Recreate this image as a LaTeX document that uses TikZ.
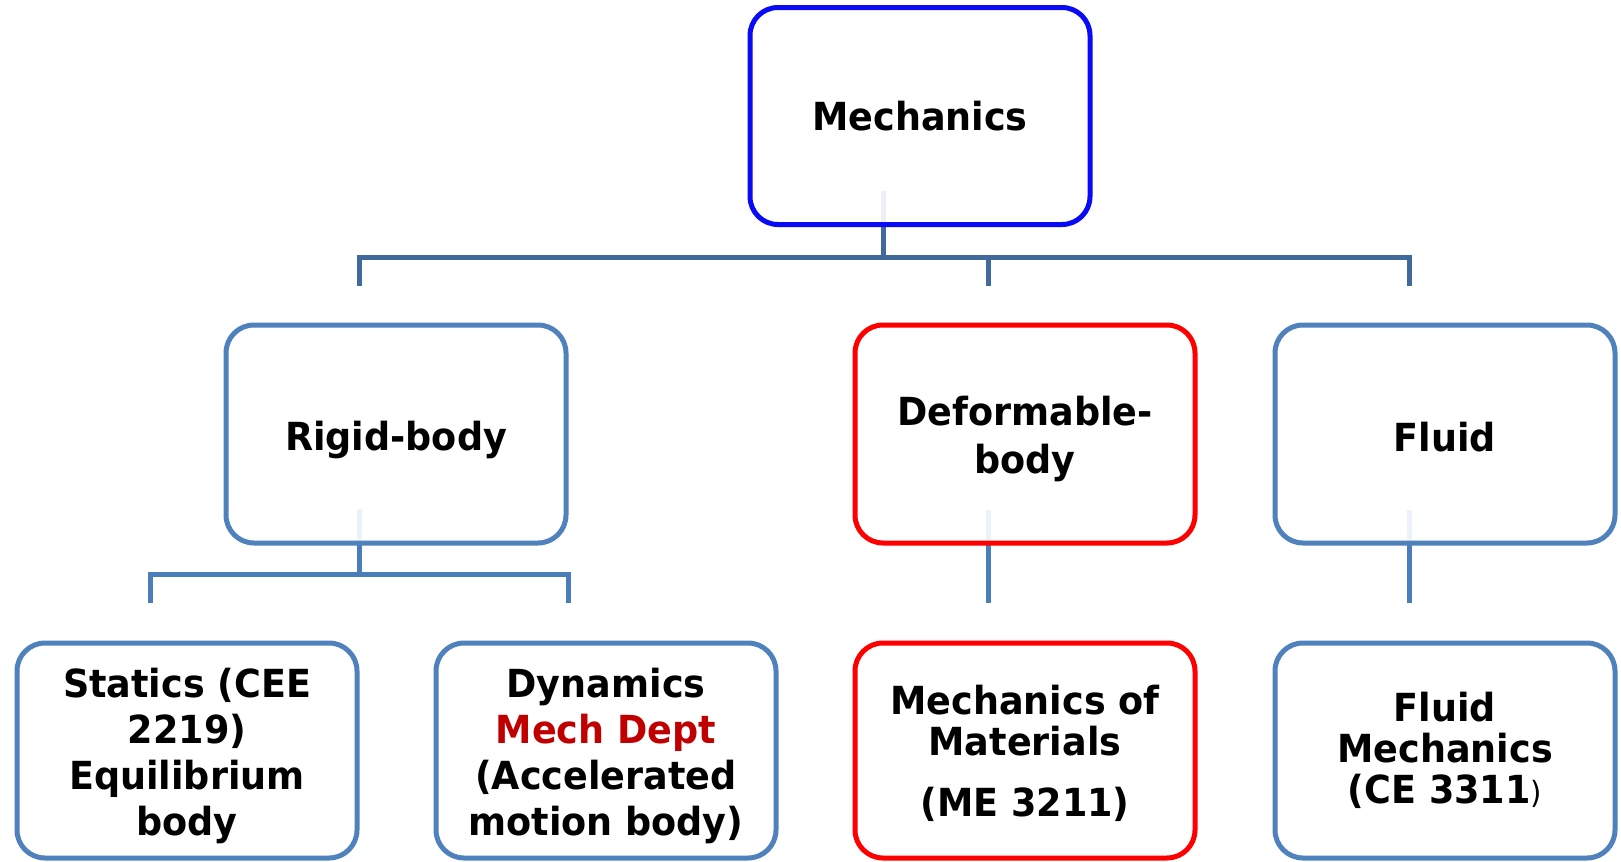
\documentclass[tikz,border=0pt]{standalone}
\usepackage{fontspec}
\setmainfont{DejaVu Sans}[FakeStretch=0.945]
\usetikzlibrary{backgrounds}
\definecolor{mainline}{HTML}{41699B}
\definecolor{subline}{HTML}{4A7EBB}
\definecolor{boxblue}{HTML}{4F81BD}
\definecolor{topblue}{HTML}{0A0AF5}
\definecolor{boxred}{HTML}{FF0000}
\definecolor{deptred}{HTML}{C00000}
\newcommand\lowerby[1]{\rule{0pt}{#1}}
\begin{document}
\begin{tikzpicture}[x=0.75pt,y=-0.75pt,
  box/.style={draw=boxblue, line width=3.75pt, rounded corners=21pt, fill=white,
    fill opacity=0.9, text opacity=1, minimum width=255pt, align=center,
    inner sep=0pt, outer sep=0pt,
    font=\fontsize{29}{33.75}\selectfont\bfseries},
  topbox/.style={box, draw=topblue, minimum height=162.75pt},
  midbox/.style={box, minimum height=163.5pt},
  lowbox/.style={box, minimum height=161.25pt},
  redbox/.style={draw=boxred},
  mainconn/.style={draw=mainline, line width=3.75pt},
  subconn/.style={draw=subline, line width=3.75pt}]
\useasboundingbox (0,0) rectangle (1621,861);

\node[topbox] (top) at (920,116) {Mechanics};

\node[midbox] (rigid) at (396,434) {\lowerby{31pt}Rigid-body};
\node[midbox, redbox, font=\fontsize{29}{36}\selectfont\bfseries] (deform) at (1025,434) {\lowerby{29pt}Deformable-\\body};
\node[midbox] (fluid) at (1445,434) {\lowerby{26.5pt}Fluid};

\node[lowbox, font=\fontsize{29}{34.5}\selectfont\bfseries] (statics) at (187,750.5) {\lowerby{29.5pt}Statics (CEE\\2219)\\Equilibrium\\body};
\node[lowbox, font=\fontsize{29}{34.5}\selectfont\bfseries] (dynamics) at (606,750.5) {\lowerby{29.5pt}Dynamics\\{\color{deptred}Mech Dept}\\(Accelerated\\motion body)};
\node[lowbox, redbox, font=\fontsize{29}{30.75}\selectfont\bfseries] (mom) at (1025,750.5) {\lowerby{26.5pt}Mechanics of\\Materials\\[15pt](ME 3211)};
\node[lowbox, font=\fontsize{29}{30.75}\selectfont\bfseries] (fmech) at (1445,750.5) {Fluid\\Mechanics\\(CE 3311{\mdseries\fontsize{23}{24}\selectfont)}};

\begin{pgfonlayer}{background}
  \coordinate (m0) at (883,191);
  \coordinate (m1) at (883,257.5);
  \coordinate (mL) at (359,286);
  \coordinate (mM) at (988,286);
  \coordinate (mR) at (1409,286);
  \draw[mainconn] (m0) -- (m1);
  \draw[mainconn] (mL) |- (mR |- m1) -- (mR);
  \draw[mainconn] (mM) -- (mM |- m1);

  \coordinate (r0) at (359,509);
  \coordinate (r1) at (359,574.5);
  \coordinate (rL) at (150,603);
  \coordinate (rR) at (568,603);
  \draw[subconn] (r0) -- (r1);
  \draw[subconn] (rL) |- (rR |- r1) -- (rR);

  \coordinate (d0) at (988,510);
  \coordinate (d1) at (988,603);
  \draw[subconn] (d0) -- (d1);

  \coordinate (f0) at (1409,510);
  \coordinate (f1) at (1409,603);
  \draw[subconn] (f0) -- (f1);
\end{pgfonlayer}
\end{tikzpicture}
\end{document}
